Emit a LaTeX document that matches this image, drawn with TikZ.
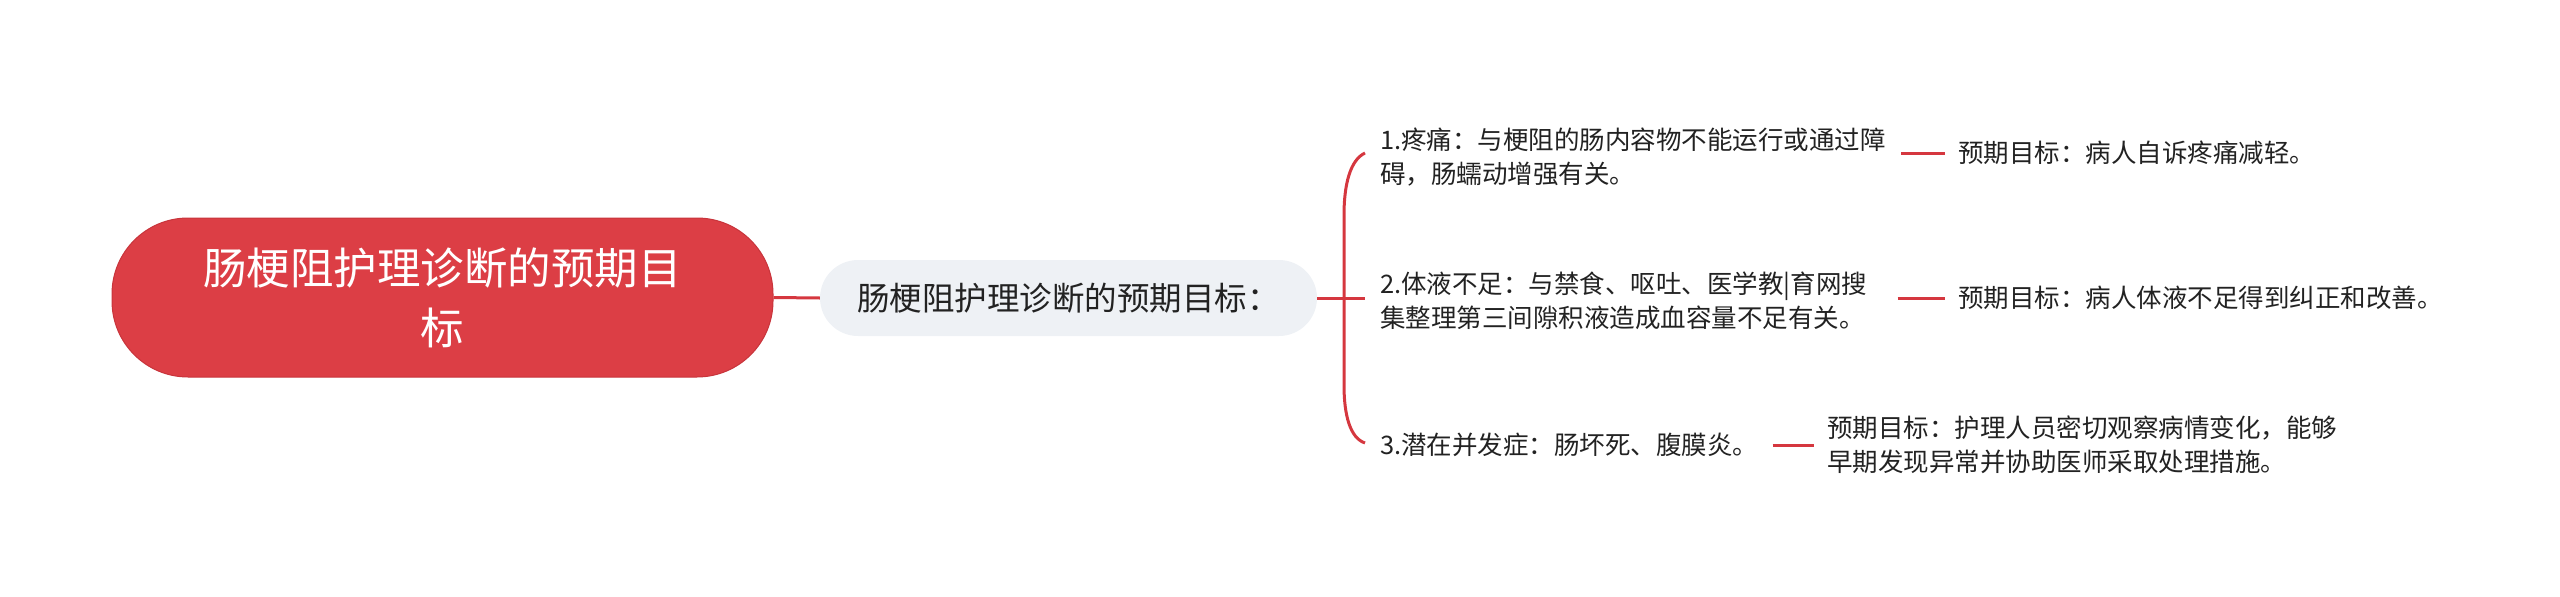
\documentclass[tikz,border=0pt]{standalone}
\usepackage{fontspec}
\setmainfont{Noto Sans CJK SC}
\definecolor{rootred}{HTML}{DC3E45}
\definecolor{rootedge}{HTML}{C8343B}
\definecolor{linered}{HTML}{D5373F}
\definecolor{subfill}{HTML}{EEF1F5}
\definecolor{txt}{HTML}{222222}
\begin{document}
\begin{tikzpicture}[x=1pt,y=-1pt,
  conn/.style={draw=linered, line width=3pt},
  leaf/.style={anchor=west, inner sep=0pt, align=left, text=txt, font=\fontsize{25.5pt}{34pt}\selectfont}]
\useasboundingbox (0,0) rectangle (2560,597);
\node[fill=rootred, draw=rootedge, line width=1pt, rounded corners=76pt, minimum width=661pt, minimum height=159pt, text=white, align=center, font=\fontsize{43.5pt}{60pt}\selectfont] (root) at (442.5,297.5) {肠梗阻护理诊断的预期目\\标};
\node[fill=subfill, rounded corners=38pt, minimum width=497pt, minimum height=76pt, text=txt, font=\fontsize{32.5pt}{38pt}\selectfont] (sub) at (1068.5,298) {肠梗阻护理诊断的预期目标：};
\draw[conn] (root.east) -- (sub.west);
\coordinate (bt) at (1365,153);
\coordinate (bb) at (1365,443);
\coordinate (bm) at (1365,298);
\draw[conn] (sub.east) -- (bm);
\draw[conn] (bt) .. controls (1350,160) and (1344,185) .. (1344,215) -- (1344,385) .. controls (1344,415) and (1350,438) .. (bb);
\node[leaf] (b1) at (1380,157) {1.疼痛：与梗阻的肠内容物不能运行或通过障\\碍，肠蠕动增强有关。};
\node[leaf] (b2) at (1380,301) {2.体液不足：与禁食、呕吐、医学教|育网搜\\集整理第三间隙积液造成血容量不足有关。};
\node[leaf] (b3) at (1380,445) {3.潜在并发症：肠坏死、腹膜炎。};
\node[leaf] (l1) at (1958,153) {预期目标：病人自诉疼痛减轻。};
\node[leaf] (l2) at (1958,298) {预期目标：病人体液不足得到纠正和改善。};
\node[leaf] (l3) at (1827,445) {预期目标：护理人员密切观察病情变化，能够\\早期发现异常并协助医师采取处理措施。};
\draw[conn, shorten <=15pt, shorten >=13pt] (b1.east |- l1.west) -- (l1.west);
\draw[conn, shorten <=30pt, shorten >=13pt] (b2.east |- l2.west) -- (l2.west);
\draw[conn, shorten <=14pt, shorten >=13pt] (b3.east |- l3.west) -- (l3.west);
\end{tikzpicture}
\end{document}
